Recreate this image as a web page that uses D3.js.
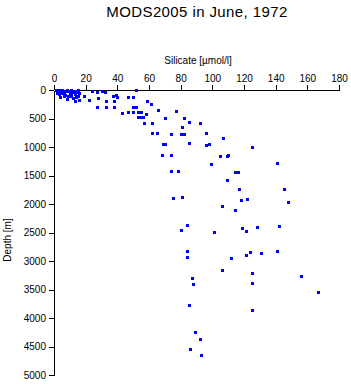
<!DOCTYPE html>
<html>
<head>
<meta charset="utf-8">
<script src="https://cdn.jsdelivr.net/npm/d3@7"></script>
<style>
  body { margin: 0; background: #fff; }
  svg { display: block; font-family: "Liberation Sans", Arial, sans-serif; }
</style>
</head>
<body>
<svg id="chart" width="351" height="384"></svg>
<script>
// silicate [umol/l] and depth [m] of each sample
const silicate = [
  1, 2, 3, 4, 5, 6, 7, 8, 9, 10, 11, 12, 13, 14, 15,
  2, 3, 5, 7, 9, 11, 13, 6, 4, 10, 12, 14, 15, 8, 16, 13, 16,
  19, 22, 24, 27, 30, 32, 28, 33, 27, 33, 37, 38, 38, 39, 40, 47, 50, 52, 50, 52,
  43, 47, 50, 53, 55, 53, 55, 56, 58, 57, 62,
  59, 61, 66, 77, 82, 85, 81, 92, 70,
  62, 65, 74, 80, 82, 96, 107, 69, 70, 85, 96, 98, 125, 68, 74, 105, 109, 110,
  99, 141, 74, 78, 114, 116, 109, 117, 145, 75, 81, 118, 122, 148, 106, 114,
  84, 80, 101, 119, 121, 128, 142, 84, 84, 112, 121, 124, 131, 141,
  106, 125, 87, 156, 88, 125, 167, 85, 125, 89, 92, 86, 93
];
const depth = [
  0, 10, 0, 20, 0, 30, 10, 0, 20, 50, 0, 30, 10, 40, 0,
  50, 75, 60, 80, 100, 90, 70, 100, 120, 110, 140, 130, 100, 150, 60, 190, 170,
  100, 175, 20, 30, 20, 40, 140, 190, 300, 300, 105, 190, 300, 80, 120, 120, 120, 0, 300, 300,
  400, 390, 390, 390, 390, 470, 470, 470, 420, 580, 580,
  190, 245, 350, 370, 490, 560, 650, 580, 490,
  760, 760, 780, 780, 770, 760, 840, 950, 950, 930, 965, 950, 1000, 1140, 1140, 1160, 1160, 1140,
  1300, 1280, 1420, 1420, 1440, 1440, 1580, 1740, 1740, 1890, 1880, 1930, 1910, 1960, 2030, 2100,
  2370, 2450, 2490, 2420, 2470, 2400, 2390, 2820, 2930, 2950, 2900, 2840, 2860, 2820,
  3160, 3210, 3300, 3260, 3400, 3390, 3540, 3770, 3860, 4250, 4370, 4540, 4650
];
const xTicks = [0, 20, 40, 60, 80, 100, 120, 140, 160, 180];
const yTicks = [0, 500, 1000, 1500, 2000, 2500, 3000, 3500, 4000, 4500, 5000];

const svg = d3.select("#chart");
const margin = {left: 54, top: 90, right: 12, bottom: 9};
const width = 351 - margin.left - margin.right;
const height = 384 - margin.top - margin.bottom;

const x = d3.scaleLinear().domain([0, 180]).range([0, width]);
const y = d3.scaleLinear().domain([0, 5000]).range([0, height]);

const g = svg.append("g")
  .attr("transform", "translate(" + margin.left + "," + margin.top + ")");

// top axis
const xAxis = g.append("g")
  .call(d3.axisTop(x).tickValues(xTicks).tickFormat(d3.format("d"))
    .tickSize(5).tickPadding(3).tickSizeOuter(0));
// left axis
const yAxis = g.append("g")
  .call(d3.axisLeft(y).tickValues(yTicks).tickFormat(d3.format("d"))
    .tickSize(5).tickPadding(3).tickSizeOuter(0));

[xAxis, yAxis].forEach(function (a) {
  a.selectAll("path, line").attr("stroke", "#000").attr("stroke-width", 1).attr("shape-rendering", "crispEdges");
  a.selectAll("text").attr("font-size", 10).attr("fill", "#000").attr("font-family", "Liberation Sans, Arial, sans-serif");
});

// points
const pts = silicate.map(function (s, i) { return {s: s, d: depth[i]}; });
g.selectAll("rect.pt")
  .data(pts)
  .enter()
  .append("rect")
  .attr("class", "pt")
  .attr("x", function (d) { return Math.round(x(d.s)) - 1; })
  .attr("y", function (d) { return Math.round(y(d.d)) - 1; })
  .attr("width", 3)
  .attr("height", 3)
  .attr("fill", "#0000ff")
  .attr("shape-rendering", "crispEdges");

// labels
svg.append("text")
  .attr("x", 197).attr("y", 17)
  .attr("text-anchor", "middle")
  .attr("font-size", 15)
  .attr("letter-spacing", 0.4)
  .text("MODS2005 in June, 1972");

svg.append("text")
  .attr("x", 198).attr("y", 64)
  .attr("text-anchor", "middle")
  .attr("font-size", 10)
  .text("Silicate [\u00b5mol/l]");

svg.append("text")
  .attr("transform", "translate(11,240) rotate(-90)")
  .attr("text-anchor", "middle")
  .attr("font-size", 10)
  .text("Depth [m]");
</script>
</body>
</html>
